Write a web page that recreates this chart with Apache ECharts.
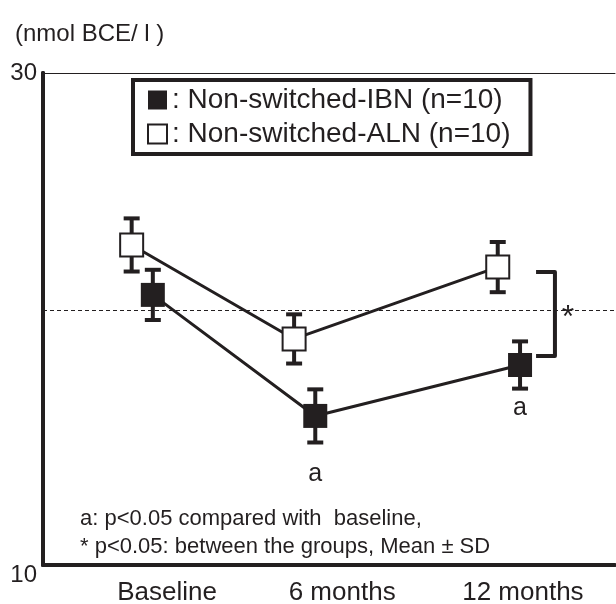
<!DOCTYPE html>
<html>
	<head>
		<meta charset="utf-8">
		<title>nmol BCE/l</title>
		<style type="text/css">
			html, body {
				margin: 0;
				padding: 0;
				background: #fff;
			}

			#chart {
				width: 616px;
				height: 604px;
			}
		</style>
	</head>
	<body>
		<div id="chart"></div>

		<script src="https://cdn.jsdelivr.net/npm/echarts@6.0.0/dist/echarts.min.js"></script>
		<script>
			// 数据
			var groups = ['Baseline', '6 months', '12 months'];
			var labelX = [21.7, 52.3, 83.9];

			var ibnName = 'Non-switched-IBN (n=10)';
			var ibnX = [19.2, 47.6, 83.4];
			var ibnMean = [20.98, 16.06, 18.13];
			var ibnSD = [1.02, 1.08, 0.96];
			var ibnMark = ['', 'a', 'a'];

			var alnName = 'Non-switched-ALN (n=10)';
			var alnX = [15.5, 43.9, 79.5];
			var alnMean = [23.01, 19.19, 22.11];
			var alnSD = [1.08, 1.00, 1.02];

			var refLevel = 20.34;
			var bracketX = [86.2, 89.5];
			var bracketY = [18.5, 21.91];

			var ink = '#231f20';
			var font = '"Liberation Sans", Arial, sans-serif';
			var markGap = [0, 34, 19];

			function errData(xs, mean, sd) {
				return xs.map(function(x, i) {
					return [x, mean[i] - sd[i], mean[i] + sd[i]];
				});
			}

			// 误差线
			function renderErr(params, api) {
				var lo = api.coord([api.value(0), api.value(1)]);
				var hi = api.coord([api.value(0), api.value(2)]);
				var w = 8;
				var st = { stroke: ink, lineWidth: 4 };
				return {
					type: 'group',
					children: [
						{ type: 'line', shape: { x1: lo[0], y1: lo[1], x2: hi[0], y2: hi[1] }, style: st },
						{ type: 'line', shape: { x1: lo[0] - w, y1: lo[1], x2: lo[0] + w, y2: lo[1] }, style: st },
						{ type: 'line', shape: { x1: hi[0] - w, y1: hi[1], x2: hi[0] + w, y2: hi[1] }, style: st }
					]
				};
			}

			// 组间比较括号
			function renderBracket(params, api) {
				var a = api.coord([api.value(0), api.value(3)]);
				var b = api.coord([api.value(1), api.value(2)]);
				return {
					type: 'group',
					children: [{
						type: 'polyline',
						shape: { points: [[a[0], a[1]], [b[0], a[1]], [b[0], b[1]], [a[0], b[1]]] },
						style: { stroke: ink, lineWidth: 4, fill: null, lineJoin: 'round' }
					}, {
						type: 'text',
						x: b[0] + 13,
						y: (a[1] + b[1]) / 2 + 4,
						style: { text: '*', font: '32px ' + font, fill: ink, align: 'center', verticalAlign: 'middle' }
					}]
				};
			}

			var ibnData = ibnX.map(function(x, i) {
				var item = { value: [x, ibnMean[i]] };
				if (ibnMark[i]) {
					item.label = {
						show: true,
						formatter: ibnMark[i],
						position: 'bottom',
						distance: markGap[i],
						fontSize: 25,
						fontFamily: font,
						color: ink
					};
				}
				return item;
			});

			var alnData = alnX.map(function(x, i) {
				return [x, alnMean[i]];
			});

			var myChart = echarts.init(document.getElementById('chart'));

			var option = {
				animation: false,
				textStyle: { fontFamily: font, color: ink },
				title: {
					text: '(nmol BCE/ l )',
					left: 10,
					top: 17,
					textStyle: { fontSize: 24, fontWeight: 'normal', color: ink, fontFamily: font }
				},
				legend: {
					orient: 'vertical',
					left: 133,
					top: 80,
					padding: [6, 20, 6, 14],
					itemGap: 6,
					itemWidth: 19,
					itemHeight: 19,
					borderColor: ink,
					borderWidth: 4,
					formatter: ': {name}',
					textStyle: { fontSize: 28, color: ink, fontFamily: font },
					data: [
						{ name: ibnName, icon: 'rect', itemStyle: { color: ink, borderWidth: 0 } },
						{ name: alnName, icon: 'rect', itemStyle: { color: '#fff', borderColor: ink, borderWidth: 2 } }
					]
				},
				grid: {
					left: 43,
					right: 1,
					top: 73,
					bottom: 39,
					outerBoundsMode: 'none'
				},
				xAxis: [{
					type: 'value',
					min: 0,
					max: 100,
					axisLine: { show: true, lineStyle: { color: ink, width: 4 } },
					axisTick: { show: false },
					splitLine: { show: false },
					axisLabel: {
						customValues: labelX,
						formatter: function(v) {
							return groups[labelX.indexOf(v)] || '';
						},
						fontSize: 26,
						color: ink,
						margin: 15
					}
				}, {
					type: 'value',
					position: 'top',
					min: 0,
					max: 100,
					axisLine: { show: true, onZero: false, lineStyle: { color: ink, width: 1 } },
					axisTick: { show: false },
					axisLabel: { show: false },
					splitLine: { show: false }
				}],
				yAxis: [{
					type: 'value',
					min: 10,
					max: 30,
					interval: 10,
					axisLine: { show: true, lineStyle: { color: ink, width: 4 } },
					axisTick: { show: false },
					splitLine: { show: false },
					axisLabel: {
						margin: 6,
						formatter: function(v) {
							if (v === 10) return '{lo|10}';
							if (v === 30) return '{hi|30}';
							return '';
						},
						rich: {
							lo: { fontSize: 24, color: ink, padding: [20, 0, 0, 0] },
							hi: { fontSize: 24, color: ink }
						}
					}
				}, {
					type: 'value',
					position: 'right',
					min: 10,
					max: 30,
					axisLine: { show: true, lineStyle: { color: ink, width: 4 } },
					axisTick: { show: false },
					axisLabel: { show: false },
					splitLine: { show: false }
				}],
				series: [{
					type: 'custom',
					name: 'errIBN',
					renderItem: renderErr,
					data: errData(ibnX, ibnMean, ibnSD),
					z: 1,
					silent: true
				}, {
					type: 'custom',
					name: 'errALN',
					renderItem: renderErr,
					data: errData(alnX, alnMean, alnSD),
					z: 1,
					silent: true
				}, {
					type: 'custom',
					name: 'bracket',
					renderItem: renderBracket,
					data: [[bracketX[0], bracketX[1], bracketY[0], bracketY[1]]],
					z: 1,
					silent: true
				}, {
					name: alnName,
					type: 'line',
					data: alnData,
					symbol: 'rect',
					symbolSize: [23, 23],
					z: 3,
					itemStyle: { color: '#fff', borderColor: ink, borderWidth: 2 },
					lineStyle: { color: ink, width: 3 }
				}, {
					name: ibnName,
					type: 'line',
					data: ibnData,
					symbol: 'rect',
					symbolSize: [24, 24],
					z: 3,
					itemStyle: { color: ink },
					lineStyle: { color: ink, width: 3 },
					markLine: {
						silent: true,
						symbol: 'none',
						label: { show: false },
						lineStyle: { color: ink, width: 1, type: [4, 3] },
						data: [{ yAxis: refLevel }]
					}
				}],
				graphic: [{
					type: 'text',
					left: 80,
					top: 505,
					style: {
						text: 'a: p<0.05 compared with  baseline,\n* p<0.05: between the groups, Mean \u00b1 SD',
						font: '22px ' + font,
						lineHeight: 28,
						fill: ink
					}
				}]
			};

			myChart.setOption(option);
		</script>
	</body>
</html>
